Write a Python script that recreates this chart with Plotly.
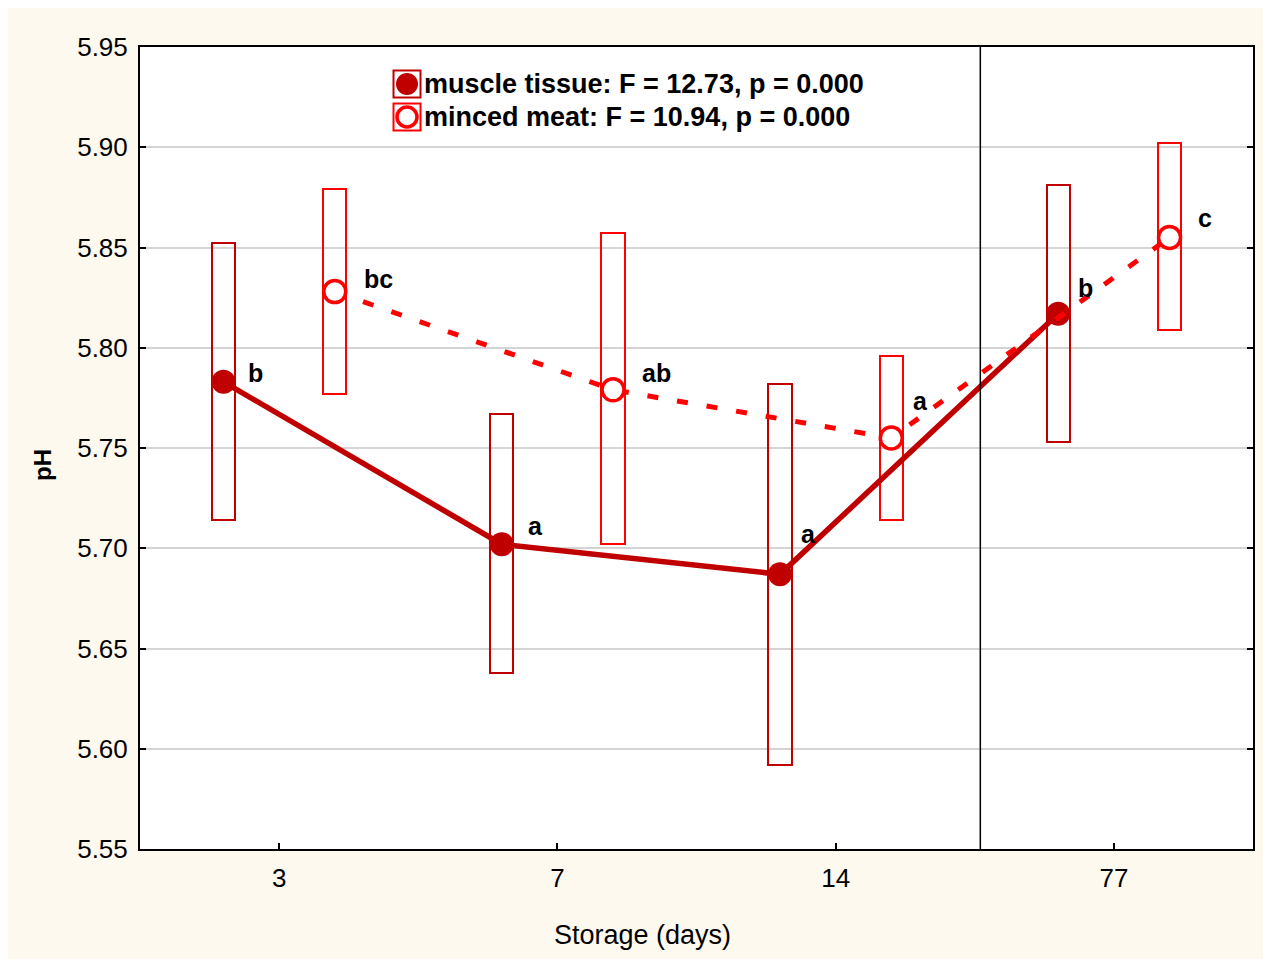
import plotly.graph_objects as go

# ---- data ----
categories = ["3", "7", "14", "77"]
muscle_mean = [5.783, 5.702, 5.687, 5.817]
muscle_low = [5.714, 5.638, 5.592, 5.753]
muscle_high = [5.852, 5.767, 5.782, 5.881]
minced_mean = [5.828, 5.779, 5.755, 5.855]
minced_low = [5.777, 5.702, 5.714, 5.809]
minced_high = [5.879, 5.857, 5.796, 5.902]
muscle_letters = ["b", "a", "a", "b"]
minced_letters = ["bc", "ab", "a", "c"]
legend_labels = ["muscle tissue: F = 12.73, p = 0.000", "minced meat: F = 10.94, p = 0.000"]

# ---- style ----
DARK = "#C00000"
RED = "#FF0000"
CREAM = "#FEF9EF"
FONT = "Liberation Sans, Arial, sans-serif"
OFF = 0.2
BOXW = 0.083
SEP_X = 2.52
muscle_label_shift = [(32, 9), (34, 18), (29, 40), (27, 26)]
minced_label_shift = [(44, 13), (43, 17), (29, 37), (35, 19)]

pos = list(range(len(categories)))
xm = [p - OFF for p in pos]
xn = [p + OFF for p in pos]

fig = go.Figure()

fig.add_trace(go.Bar(x=xm, base=muscle_low, y=[h - l for h, l in zip(muscle_high, muscle_low)],
                     width=BOXW, marker=dict(color="rgba(0,0,0,0)", line=dict(color=DARK, width=2)),
                     showlegend=False, hoverinfo="skip"))
fig.add_trace(go.Bar(x=xn, base=minced_low, y=[h - l for h, l in zip(minced_high, minced_low)],
                     width=BOXW, marker=dict(color="rgba(0,0,0,0)", line=dict(color=RED, width=2)),
                     showlegend=False, hoverinfo="skip"))

fig.add_trace(go.Scatter(x=xm, y=muscle_mean, mode="lines+markers",
                         line=dict(color=DARK, width=5.5),
                         marker=dict(symbol="circle", size=24, color=DARK),
                         showlegend=False))
fig.add_trace(go.Scatter(x=xn, y=minced_mean, mode="lines+markers",
                         line=dict(color=RED, width=5, dash="11px,19px"),
                         marker=dict(symbol="circle", size=22, color="white", line=dict(color=RED, width=3.5)),
                         showlegend=False))

# legend (custom, on overlay axes)
leg_x = 0.2399
leg_y = [0.9539, 0.9127]
fig.add_trace(go.Scatter(x=[leg_x], y=[leg_y[0]], xaxis="x2", yaxis="y2", mode="markers",
                         marker=dict(symbol="square-open", size=27, color=DARK, line=dict(width=2)),
                         showlegend=False, hoverinfo="skip"))
fig.add_trace(go.Scatter(x=[leg_x], y=[leg_y[0]], xaxis="x2", yaxis="y2", mode="markers",
                         marker=dict(symbol="circle", size=22, color=DARK),
                         showlegend=False, hoverinfo="skip"))
fig.add_trace(go.Scatter(x=[leg_x], y=[leg_y[1]], xaxis="x2", yaxis="y2", mode="markers",
                         marker=dict(symbol="square-open", size=27, color=RED, line=dict(width=2)),
                         showlegend=False, hoverinfo="skip"))
fig.add_trace(go.Scatter(x=[leg_x], y=[leg_y[1]], xaxis="x2", yaxis="y2", mode="markers",
                         marker=dict(symbol="circle", size=20, color="white", line=dict(color=RED, width=3.5)),
                         showlegend=False, hoverinfo="skip"))

annotations = []
for i in range(len(categories)):
    dx, dy = muscle_label_shift[i]
    annotations.append(dict(x=xm[i], y=muscle_mean[i], xref="x", yref="y", text=muscle_letters[i],
                            showarrow=False, xshift=dx, yshift=dy,
                            font=dict(family=FONT, size=25, color="black", weight="bold")))
    dx, dy = minced_label_shift[i]
    annotations.append(dict(x=xn[i], y=minced_mean[i], xref="x", yref="y", text=minced_letters[i],
                            showarrow=False, xshift=dx, yshift=dy,
                            font=dict(family=FONT, size=25, color="black", weight="bold")))
for lbl, ly in zip(legend_labels, leg_y):
    annotations.append(dict(x=0.2534, y=ly, xref="paper", yref="paper", text=lbl, showarrow=False,
                            xanchor="left", yanchor="middle",
                            font=dict(family=FONT, size=27, color="black", weight="bold")))
annotations.append(dict(x=0.4515, y=-0.1072, xref="paper", yref="paper", text="Storage (days)",
                        showarrow=False, xanchor="center", yanchor="middle",
                        font=dict(family=FONT, size=27, color="black")))
annotations.append(dict(x=-0.0881, y=0.4788, xref="paper", yref="paper", text="pH", textangle=-90,
                        showarrow=False, xanchor="center", yanchor="middle",
                        font=dict(family=FONT, size=24, color="black", weight="bold")))

shapes = [
    dict(type="line", xref="x", yref="paper", x0=SEP_X, x1=SEP_X, y0=0, y1=1,
         line=dict(color="black", width=1.5)),
]

# page body has an 8px margin, so the figure is offset by (8, 8)
fig.update_layout(
    width=1271, height=951,
    margin=dict(l=132, r=26, t=39, b=110),
    paper_bgcolor=CREAM, plot_bgcolor="white",
    barmode="overlay", bargap=0,
    showlegend=False,
    font=dict(family=FONT, color="black"),
    xaxis=dict(range=[-0.5, 3.5], tickmode="array", tickvals=pos, ticktext=categories,
               showgrid=False, zeroline=False, showline=True, linecolor="black", linewidth=2,
               mirror=True, ticks="inside", ticklen=6, tickcolor="black", tickwidth=1.5,
               ticklabelstandoff=5, tickfont=dict(size=26, family=FONT)),
    yaxis=dict(range=[5.55, 5.95], tickmode="linear", tick0=5.55, dtick=0.05, tickformat=".2f",
               showgrid=True, gridcolor="#D4D4D4", gridwidth=1.5, zeroline=False,
               showline=True, linecolor="black", linewidth=2, mirror="ticks",
               ticks="inside", ticklen=6, tickcolor="black", tickwidth=1.5,
               ticklabelstandoff=5, tickfont=dict(size=26, family=FONT)),
    xaxis2=dict(overlaying="x", range=[0, 1], visible=False),
    yaxis2=dict(overlaying="y", range=[0, 1], visible=False),
    annotations=annotations,
    shapes=shapes,
)

fig.write_html("out.html")
